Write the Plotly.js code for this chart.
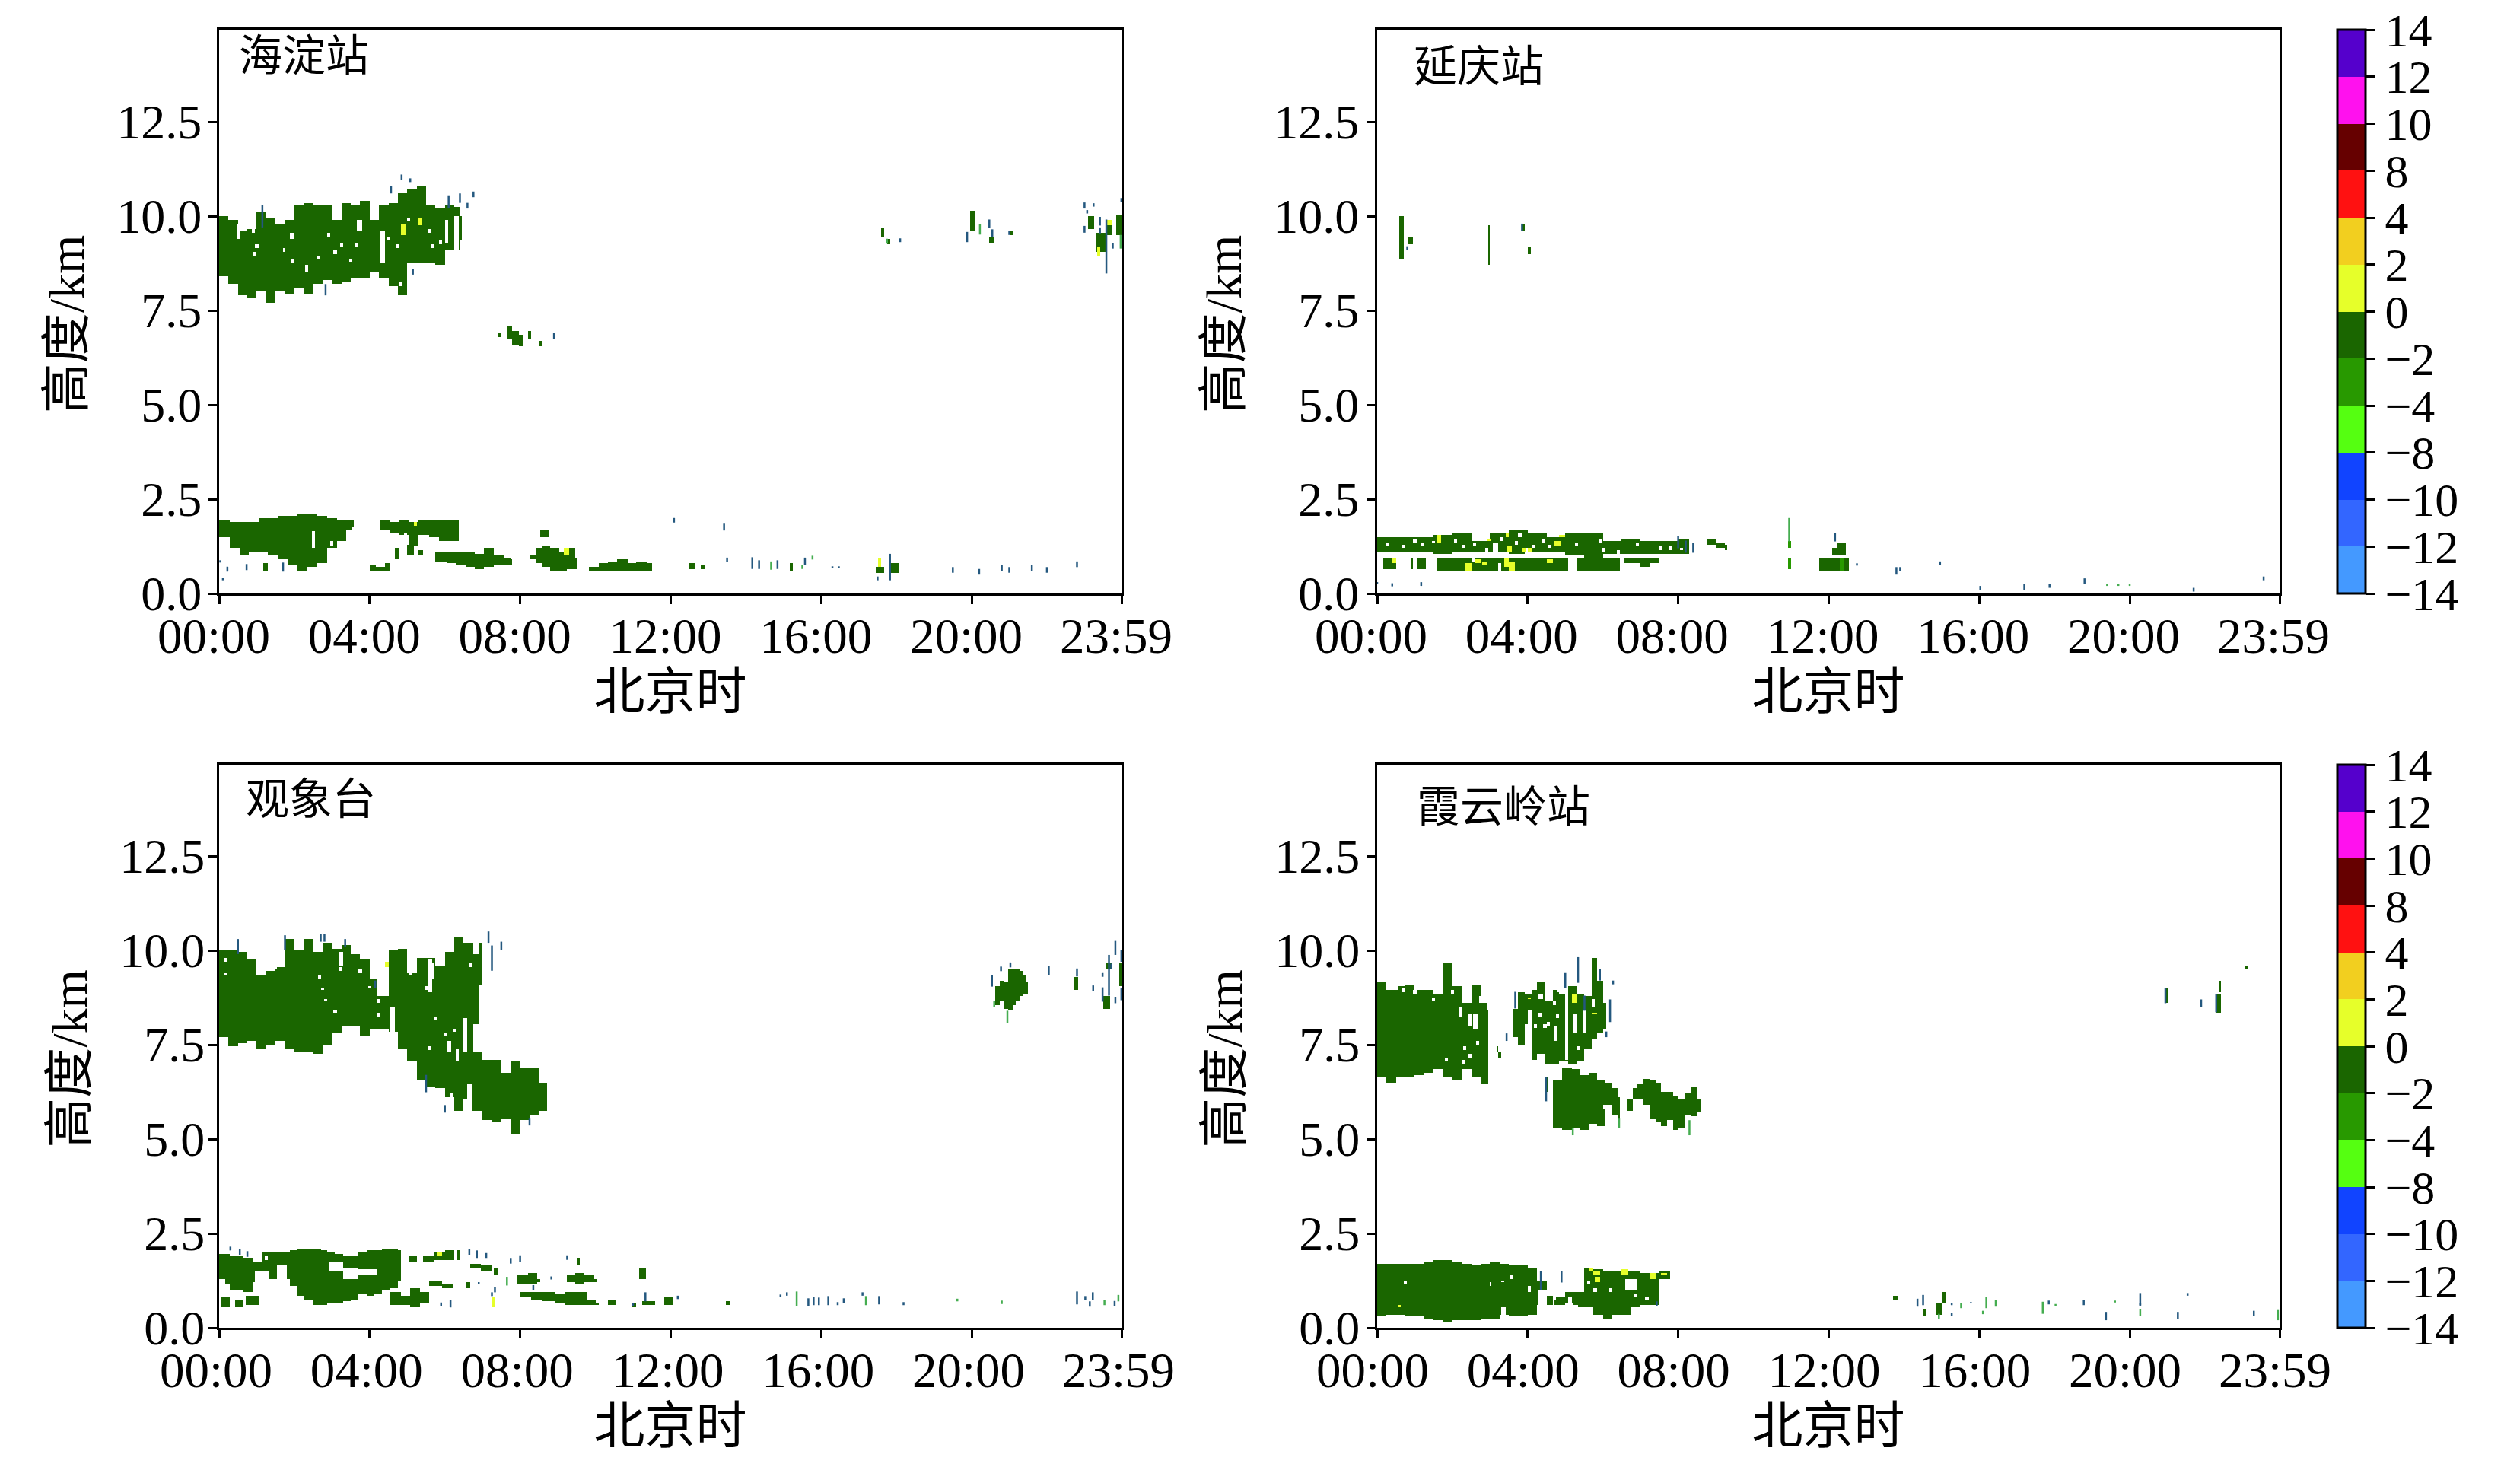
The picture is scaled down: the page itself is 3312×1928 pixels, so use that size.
<!DOCTYPE html>
<html><head><meta charset="utf-8">
<script src="https://cdn.plot.ly/plotly-3.0.1.min.js"></script>
<style>html,body{margin:0;padding:0;background:#fff}</style></head>
<body><div id="chart" style="width:3312px;height:1928px"></div>
<script>
// ---------- shared labels ----------
const stationNames = ['海淀站','延庆站','观象台','霞云岭站'];
const xTickHours = [0,4,8,12,16,20,23.983];
const xTickLabels = ['00:00','04:00','08:00','12:00','16:00','20:00','23:59'];
const yTicks = [0,2.5,5,7.5,10,12.5];
const cbarLabels = ['−14','−12','−10','−8','−4','−2','0','2','4','8','10','12','14'];
const cbarColors = ['#4499ff','#3366ff','#1144ff','#55ff11','#289900','#1a6600','#e6ff2a','#f2cf1f','#ff1111','#660000','#ff11ee','#5500cc'];
const DARK = 5.5, MID = 4.5, YELLOW = 6.5; // colour classes on the colour bar

// ---------- 海淀站 ----------
const hdUpperT   = [0,.25,.5,.75,1,1.25,1.5,1.75,2,2.25,2.5,2.75,3,3.25,3.5,3.75,4,4.25,4.5,4.75,5,5.25,5.5,5.75,6,6.25,6.42,6.47];
const hdUpperLo  = [8.38,8.21,7.9,7.85,8.0,7.7,8.0,7.95,8.1,7.95,8.2,8.3,8.2,8.25,8.35,8.35,8.5,8.35,8.15,7.9,8.75,8.75,8.75,8.7,9.1,9.1,9.35,9.35];
const hdUpperHi  = [10.0,9.9,9.6,9.65,10.1,9.95,9.8,9.9,10.3,10.35,10.3,10.3,9.9,10.35,10.3,10.4,9.9,10.3,10.35,10.6,10.7,10.8,10.3,10.2,10.3,10.25,10.0,9.35];
const hdLowT     = [0,.28,.54,.8,1.06,1.3,1.57,1.83,2.09,2.35,2.6,2.86,3.12,3.38,3.54,3.6,4.3,4.54,4.8,5.06,5.3,5.57,5.83,6.1,6.32,6.37,8.26,8.41,8.6,8.8,9.06,9.25,9.45,9.5,9.85,10.09,10.35,10.6,10.86,11.1,11.38,11.5];
const hdLowLo    = [1.48,1.22,1.0,1.08,1.08,1.0,.88,.75,.61,.72,.82,1.22,1.42,1.72,1.75,0,1.72,1.62,1.55,1.25,1.55,1.48,1.38,1.38,1.42,0,.88,.78,.72,.61,.61,.63,.65,0,.61,.61,.61,.61,.61,.61,.61,0];
const hdLowHi    = [1.97,1.9,1.88,1.88,2.0,2.02,2.03,2.05,2.1,2.12,2.05,2.02,1.95,1.97,1.95,0,1.95,1.92,1.94,1.92,1.95,1.97,1.95,1.97,1.95,0,.98,1.22,1.26,1.18,1.12,1.22,.95,0,.71,.82,.85,.9,.82,.85,.82,0];
const hdMidT     = [5.77,6.03,6.28,6.54,6.8,7.06,7.3,7.57,7.74,7.8];
const hdMidLo    = [.85,.78,.75,.72,.65,.72,.75,.75,.76,0];
const hdMidHi    = [1.12,1.08,1.12,1.12,1.05,1.18,.98,.95,.92,0];
const hdPatchT0  = [7.4,7.65,7.8,7.95,8.2,8.5,4.65,5.0,5.3,4.0,4.15,4.4,1.15,8.55,12.5,12.8,15.15,17.45,17.83,17.6,17.75,19.95,20.47,21,23.07,23.31,23.58,23.82];
const hdPatchT1  = [7.5,7.8,7.95,8.1,8.3,8.6,4.8,5.15,5.4,4.15,4.4,4.55,1.3,8.75,12.65,12.9,15.25,17.65,18.1,17.68,17.85,20.07,20.57,21.08,23.26,23.58,23.72,23.98];
const hdPatchLo  = [6.8,6.75,6.6,6.55,6.75,6.55,.88,1.0,1.0,.62,.58,.58,.58,1.5,.63,.65,.58,.55,.55,9.44,9.27,9.61,9.31,9.5,9.64,9.04,9.5,9.5];
const hdPatchHi  = [6.9,7.1,6.95,6.85,6.95,6.7,1.22,1.28,1.15,.75,.71,.82,.78,1.68,.78,.76,.78,.68,.82,9.68,9.41,10.15,9.45,9.6,9.98,9.54,9.91,10.05];
const hdGapT0    = [.45,1.88,3.68,4.28,2.28,6.0,6.27,2.45,2.95,4.92,5.35,5.65];
const hdGapT1    = [.53,1.98,3.8,4.4,2.38,6.08,6.36,2.53,3.05,5.0,5.45,5.72];
const hdGapLo    = [9.4,9.4,9.6,8.75,8.5,9.3,9.1,1.22,1.25,1.25,1.25,1.2];
const hdGapHi    = [9.8,9.55,9.9,9.6,8.7,9.9,10.0,1.63,1.42,1.6,1.5,1.45];
const hdDotT     = [.95,1,1.73,2.63,3.5,3.25,3.66,4.76,4.83,5.86,5.66,5.6,.9,3.1,2.9,4.5,1.95,5.05];
const hdDotH     = [9.0,9.2,9.1,8.9,8.82,9.25,9.25,9.2,8.2,9.3,9.2,9.6,9.6,9.05,9.5,9.4,8.8,9.9];
const hdYellowT0 = [9.15,5.15,17.5,4.85,5.3,23.33,23.58];
const hdYellowT1 = [9.28,5.25,17.6,4.97,5.38,23.43,23.7];
const hdYellowLo = [1.02,1.82,.68,9.5,9.75,8.94,9.75];
const hdYellowHi = [1.18,1.88,.95,9.8,9.95,9.2,9.88];
const hdStreakT  = [4.57,4.85,5.08,6.76,6.6,6.4,6.1,1.15,5.15,2.83,12.09,13.42,13.5,14.17,14.35,14.84,15.57,16.3,16.47,17.83,17.5,.03,.1,.22,.73,1.7,8.9,18.1,19.88,20.47,20.55,21,23,23,23.07,23.24,23.41,23.41,23.58,23.75,23.98,19.5,20.2,20.8,21,21.6,22,22.8];
const hdStreakLo = [10.6,10.95,10.9,10.5,10.2,10.35,10.2,9.7,8.45,7.9,1.88,1.67,.83,.65,.65,.65,.75,.68,.68,.35,.35,.82,.35,.58,.62,.58,6.75,9.31,9.31,9.68,9.45,9.5,10.2,9.56,10.07,10.25,9.75,9.54,8.48,9.14,10.38,.55,.5,.6,.55,.6,.55,.7];
const hdStreakHi = [10.8,11.1,11.0,10.65,10.35,10.6,10.55,10.3,8.6,8.2,2.0,1.85,.95,.96,.88,.88,.95,.72,.72,1.05,.45,.88,.41,.71,.78,.82,6.9,9.41,9.58,9.91,9.65,9.6,10.36,9.74,10.16,10.34,9.98,9.7,9.91,9.29,10.48,.7,.65,.75,.7,.75,.7,.85];
const hdGreenT   = [14.67,15.5,15.77,20.22,17.75,23.96];
const hdGreenLo  = [.63,.65,.9,9.51,9.27,9.14];
const hdGreenHi  = [.85,.75,1.0,9.78,9.4,9.5];

// ---------- 延庆站 ----------
const yqBandT    = [0,.5,1,1.5,2,2.5,3,3.5,4,4.5,5,5.5,6,6.5,7,7.5,8,8.28,8.74,9,9.23,9.3];
const yqBandLo   = [1.11,1.08,1.11,1.04,1.08,1.11,1.08,1.06,1.09,1.11,1.0,.97,1.04,1.06,1.06,1.06,1.06,0,1.31,1.21,1.16,0];
const yqBandHi   = [1.51,1.51,1.48,1.55,1.58,1.41,1.58,1.69,1.58,1.48,1.58,1.58,1.41,1.46,1.41,1.38,1.44,0,1.47,1.33,1.28,0];
const yqLowT     = [.15,.5,.9,1.3,1.6,3.3,4.0,5.1,5.2,6.3,6.5,7.0,7.25,7.5,7.6];
const yqLowLo    = [.66,0,.67,0,.62,.62,.62,0,.6,.6,.81,.7,.8,.94,0];
const yqLowHi    = [.94,0,.97,0,.95,.95,.95,0,.97,.97,.97,.96,.95,.97,0];
const yqPatchT0  = [.6,.85,2.95,3.85,4.0,11.76,12.4,12.08,12.2,12.44];
const yqPatchT1  = [.7,.95,3.0,3.92,4.08,12.3,12.53,12.2,12.44,12.5];
const yqPatchLo  = [8.85,9.25,8.7,9.6,9.0,.62,.62,1.0,1.0,.62];
const yqPatchHi  = [10.0,9.45,9.76,9.8,9.2,.94,.94,1.2,1.34,.94];
const yqMidT0    = [10.92,10.92,12.3];
const yqMidT1    = [11.02,11.02,12.4];
const yqMidLo    = [1.18,.64,.62];
const yqMidHi    = [1.38,.95,.94];
const yqGapT0    = [.95,3.1,5.2,2.5,3.9,4.8,3.2,6.45];
const yqGapT1    = [1.05,3.2,5.3,2.6,4.0,4.9,3.3,6.55];
const yqGapLo    = [.66,1.0,.6,.85,1.0,1.0,.6,.6];
const yqGapHi    = [.97,1.35,1.0,1.0,1.2,1.1,.8,.95];
const yqDotT     = [.3,.7,1.2,1.5,2.3,2.6,2.9,3.3,3.7,4.15,4.6,5.3,6.0,6.4,6.9,3.8,4.4,5.9,7.55,7.8,8.1,1.0,2.1];
const yqDotH     = [1.3,1.25,1.3,1.38,1.25,1.3,1.15,1.45,1.35,1.25,1.25,1.3,1.15,1.1,1.3,1.55,1.4,1.4,1.2,1.2,1.18,1.4,1.4];
const yqYellowT0 = [1.58,1.58,3.4,3.45,4.72,4.0,3.85,3.38,3.52,2.8,2.6,4.5,2.35,.38,2.9,4.85];
const yqYellowT1 = [1.72,1.72,3.52,3.58,4.88,4.14,3.97,3.52,3.66,2.93,2.74,4.66,2.48,.48,3.05,4.98];
const yqYellowLo = [1.44,1.33,1.5,1.12,1.24,1.1,1.08,.72,.62,.73,.78,.8,.62,.8,1.38,1.5];
const yqYellowHi = [1.53,1.43,1.62,1.24,1.38,1.22,1.18,.95,.85,.85,.9,.92,.8,.97,1.44,1.56];
const yqStreakT  = [.4,1.17,0,8.0,8.2,8.4,12.17,12.75,13.9,13.8,14.96,16.03,17.2,17.87,18.8,21.7,23.56,.8,3.85];
const yqStreakLo = [.19,.2,.25,1.2,1.08,1.08,1.38,.74,.6,.5,.75,.1,.1,.15,.25,.05,.35,9.1,9.6];
const yqStreakHi = [.27,.3,.3,1.53,1.4,1.35,1.61,.8,.7,.7,.85,.2,.25,.25,.4,.15,.45,9.2,9.8];
const yqGreenT   = [10.95,19.4,19.7,20];
const yqGreenLo  = [1.38,.2,.2,.2];
const yqGreenHi  = [2.0,.25,.25,.25];

// ---------- 观象台 ----------
const gxUpperT   = [0,.25,.5,.75,1,1.25,1.5,1.75,2,2.25,2.5,2.75,3,3.25,3.5,3.75,4,4.25,4.5,4.75,5,5.25,5.5,5.75,6,6.25,6.5,6.75,6.9,7.0];
const gxUpperLo  = [7.68,7.45,7.55,7.61,7.41,7.48,7.58,7.41,7.31,7.28,7.24,7.51,7.78,7.98,7.98,7.75,7.88,7.88,7.85,7.38,7.04,6.57,6.4,6.37,6.1,5.77,6.03,8.05,9.1,0];
const gxUpperHi  = [10,10,9.93,9.73,9.33,9.46,9.53,10.3,10,10.3,9.93,10.2,10.07,10.17,9.9,9.76,9.26,8.82,10,10.03,9.4,9.8,9.8,9.6,9.97,10.37,10.2,9.9,10.2,0];
const gxTailT    = [6.65,7,7.25,7.5,7.75,8,8.25,8.5,8.7];
const gxTailLo   = [5.77,5.5,5.43,5.56,5.16,5.5,5.67,5.77,5.73];
const gxTailHi   = [7.3,7.1,7.1,6.77,7.04,6.9,6.9,6.5,6.03];
const gxBlobT    = [20.63,20.77,20.87,20.97,21.08,21.18,21.28,21.38,21.45,21.5];
const gxBlobLo   = [8.57,8.67,8.43,8.4,8.57,8.67,8.8,8.87,8.87,0];
const gxBlobHi   = [9.04,9.2,9.17,9.51,9.51,9.51,9.44,9.34,9.14,0];
const gxLowT     = [0,.3,.62,.93,1.14,1.34,1.55,1.86,2.07,2.27,2.48,2.69,2.89,3.1,3.3,3.51,3.72,3.93,4.13,4.34,4.55,4.75,4.83];
const gxLowLo    = [1.14,1.0,.97,1.18,1.48,1.28,1.28,1.11,.84,.74,.6,.6,.64,.64,.7,.74,.9,.87,.9,1.0,1.07,1.24,0];
const gxLowHi    = [1.95,1.92,1.85,1.75,2.02,2.02,2.02,2.05,2.08,2.1,2.08,2.06,2.02,1.95,1.92,1.92,1.98,2.05,2.05,2.08,2.12,2.05,0];
const gxBandT    = [4.55,4.85,5.1,5.35,5.6,8.0,8.3,8.6,8.9,9.2,9.5,9.8,10,10.1];
const gxBandLo   = [.6,.6,.57,.64,0,.79,.76,.7,.64,.6,.6,.6,.58,0];
const gxBandHi   = [.97,.84,1.07,.94,0,.96,.94,.94,.92,.94,.94,.76,.65,0];
const gxPatchT0  = [.05,.4,.7,5.06,5.4,5.7,6.0,6.32,6.66,6.95,7.3,5.6,5.9,6.55,7.9,8.2,8.45,9.25,9.45,9.7,9.95,9.5,11.15,10.33,10.95,11.26,11.83,13.45,22.72,23.48,23.58,23.91];
const gxPatchT1  = [.3,.62,1.05,5.27,5.7,6.0,6.25,6.42,6.95,7.25,7.4,5.9,6.2,6.68,8.2,8.45,8.55,9.45,9.7,9.95,10.05,9.6,11.35,10.55,11.07,11.57,12.03,13.6,22.85,23.67,23.7,23.98];
const gxPatchLo  = [.57,.57,.6,1.75,1.77,1.8,1.82,1.8,1.6,1.48,1.4,1.1,1.04,1.06,1.17,1.16,1.18,1.2,1.14,1.2,1.18,1.65,1.28,.58,.57,.58,.6,.62,8.97,8.43,9.5,9.04];
const gxPatchHi  = [.8,.74,.84,1.88,1.92,2.01,2.06,2.06,1.72,1.65,1.58,1.24,1.16,1.19,1.38,1.44,1.32,1.38,1.46,1.38,1.31,1.85,1.58,.76,.67,.7,.78,.72,9.31,8.8,9.64,9.64];
const gxGapT0    = [4.55,4.2,6.52,6.05,6.3,5.55,5.62,3.15,6.58,2.9,3.3,3.72,1.55,.0,.95];
const gxGapT1    = [4.66,4.32,6.6,6.15,6.38,5.68,5.72,3.28,6.7,3.3,3.72,4.2,1.8,.15,1.15];
const gxGapLo    = [7.85,8.82,7.3,7.3,7.04,8.92,9.23,9.6,5.77,1.5,1.31,1.38,1.1,1.0,1.2];
const gxGapHi    = [8.52,9.26,8.19,7.6,7.38,9.73,9.66,9.93,6.44,1.75,1.58,1.54,1.65,1.3,1.48];
const gxDotT     = [.15,2.75,2.83,3.99,4.25,6.24,6.0,6.16,.16,3.08,4.25,5.74,5.6,6.67,1.25,1.5,2.65,3.2,3.75,5.1,5.5,1.25,.25];
const gxDotH     = [9.38,8.98,8.68,9.03,8.64,7.87,7.78,6.14,9.74,8.37,8.3,8.2,7.4,9.6,9.55,9.55,9.3,9.5,9.45,9.4,9.0,1.85,1.0];
const gxYellowT0 = [4.4,5.78,7.26];
const gxYellowT1 = [4.52,5.92,7.34];
const gxYellowLo = [9.53,1.88,.56];
const gxYellowHi = [9.68,1.98,.79];
const gxStreakT  = [2.7,2.8,7.16,7.25,7.5,4.15,5.5,6,8.25,1.75,.5,3.35,.3,.55,.75,6.65,6.85,7.1,7.75,8,9.25,8.83,6.9,7.33,7.25,6.15,5.9,8.35,11.0,11.33,12.19,14.92,15.09,15.66,15.8,15.94,16.19,16.44,16.6,17.1,17.54,18.19,22.8,23.02,23.14,23.22,23.8,20.78,21.03,20.54,22.05,22.8,23.23,23.48,23.48,23.65,23.71,23.82,23.82,23.98,23.98];
const gxStreakLo = [10.23,10.23,10.2,9.46,10.0,9.0,6.24,5.7,5.36,10,9.9,10.1,2.05,1.92,1.88,1.92,1.85,1.85,1.7,1.75,1.8,1.28,1.15,.94,.84,.54,.58,1.0,.58,.7,.76,.82,.85,.58,.6,.6,.6,.6,.65,.85,.62,.6,.62,.74,.56,.74,.57,9.45,9.55,9.04,9.34,9.31,8.92,8.64,9.3,8.8,9.5,9.88,8.6,9.7,8.68];
const gxStreakHi = [10.43,10.43,10.5,10.13,10.23,9.2,6.7,5.9,5.56,10.4,10.3,10.3,2.15,2.08,2.03,2.08,2.05,1.98,1.85,1.9,1.9,1.36,1.21,1.08,.94,.74,.67,1.13,.66,.94,.85,.88,.94,.78,.82,.8,.84,.68,.78,.94,.84,.68,.96,.84,.7,.94,.71,9.57,9.68,9.35,9.58,9.52,9.07,9.02,9.4,9.88,9.65,10.25,8.77,10.0,9.0];
const gxGreenT   = [20.95,15.35,17.19,19.62,20.8,23.53,20.6,7.65,23.9];
const gxGreenLo  = [8.07,.58,.6,.7,.63,.6,8.5,1.12,.7];
const gxGreenHi  = [8.4,.96,.84,.77,.72,.74,8.65,1.35,.87];

// ---------- 霞云岭站 ----------
const xyUpperT   = [0,.25,.5,.75,1,1.25,1.5,1.75,2,2.25,2.5,2.75,2.9,2.95];
const xyUpperLo  = [6.64,6.5,6.64,6.64,6.71,6.74,6.84,6.64,6.57,6.84,6.64,6.47,6.47,0];
const xyUpperHi  = [9.17,8.93,9.04,9.1,8.97,8.93,8.87,9.64,9.04,8.6,9.1,8.6,8.4,0];
const xyMidT     = [3.63,3.75,3.9,4.14,4.26,4.45,4.68,4.84,5.07,5.3,5.5,5.69,5.84,6,6.08];
const xyMidLo    = [7.68,7.52,8.05,7.11,7.25,6.98,7.0,7.04,6.98,7.04,7.38,7.65,7.82,7.89,0];
const xyMidHi    = [8.46,8.9,8.87,8.97,9.14,8.63,8.93,8.83,9.04,8.87,8.8,9.81,9.2,8.6,0];
const xyLobeT    = [4.68,4.91,5.15,5.38,5.61,5.84,6.04,6.27,6.43,6.47,6.62,6.78,6.93,7.09,7.24,7.4,7.55,7.7,7.86,8.02,8.17,8.33,8.52,8.57];
const xyLobeLo   = [5.32,5.26,5.3,5.26,5.39,5.35,5.9,5.66,5.56,0,5.76,6.03,6.03,5.9,5.56,5.43,5.36,5.49,5.26,5.32,5.63,5.59,5.7,0];
const xyLobeHi   = [6.57,6.91,6.84,6.7,6.77,6.57,6.5,6.37,6.1,0,6.03,6.37,6.44,6.6,6.53,6.5,6.27,6.23,6.17,6.03,6.2,6.4,6.03,0];
const xyLowT     = [0,.25,.5,.75,1,1.25,1.5,1.75,2,2.25,2.5,2.75,3,3.25,3.5,3.75,4,4.25,4.5,4.75,5,5.2,5.35,5.5,5.75,6,6.25,6.5,6.75,7,7.25,7.5,7.79];
const xyLowLo    = [.32,.34,.36,.32,.3,.24,.18,.17,.18,.2,.2,.27,.24,.34,.32,.32,.34,.6,.6,.6,.64,.62,.57,.54,.37,.24,.34,.37,.57,.6,.6,1.28,0];
const xyLowHi    = [1.68,1.7,1.68,1.7,1.7,1.73,1.78,1.78,1.77,1.71,1.63,1.71,1.75,1.71,1.65,1.65,1.61,1.24,.84,.81,.97,.97,.97,1.58,1.55,1.51,1.51,1.51,1.51,1.44,1.44,1.48,0];
const xyPatchT0  = [3.17,3.22,4.49,20.9,22.3,22.37,13.72,14.5,15.0,14.85,23.05];
const xyPatchT1  = [3.22,3.28,4.55,21.0,22.42,22.42,13.85,14.58,15.12,14.98,23.13];
const xyPatchLo  = [7.3,7.15,6.23,8.6,8.36,8.9,.77,.3,.67,.37,9.5];
const xyPatchHi  = [7.45,7.3,6.64,9.0,8.85,9.2,.87,.5,.94,.64,9.6];
const xyGapT0    = [2.15,2.4,2.55,2.7,3.3,4.0,4.7,5.0,5.22,5.46,5.72,5.08,4.0,4.3,4.8,6.6,3.3,4.3,4.65];
const xyGapT1    = [2.25,2.5,2.65,2.8,3.4,4.12,4.8,5.08,5.3,5.55,5.8,5.18,4.1,4.42,4.9,6.9,3.4,4.5,4.72];
const xyGapLo    = [8.25,8.0,7.9,8.6,7.8,7.5,7.6,7.11,7.8,7.8,8.5,.64,.95,8.7,8.9,.98,.34,.6,.6];
const xyGapHi    = [8.5,8.3,8.3,8.8,8.0,8.4,8.0,8.87,8.3,8.4,8.7,.81,1.1,8.85,9.1,1.3,.54,1.0,.8];
const xyDotT     = [.5,.7,1.0,2.0,2.35,2.45,2.65,4.2,4.35,4.55,4.7,3.33,.75,3.02,3.6,4.69,5.62,5.78,6.19,6.86,7.17,5.34,6.04,4.46,4.8,1.5,1.85,2.3];
const xyDotH     = [9.0,8.95,8.9,8.9,7.4,7.2,7.55,8.0,8.3,8.05,8.6,1.22,1.2,1.16,1.34,.81,1.2,.99,.99,.84,.77,7.4,5.85,8.0,8.25,8.7,7.1,7.05];
const xyYellowT0 = [5.18,4.02,5.72,5.62,5.75,5.78,6.52,7.27,7.55,.55];
const xyYellowT1 = [5.28,4.1,5.85,5.76,5.9,5.93,6.66,7.4,7.7,.62];
const xyYellowLo = [8.6,8.68,8.3,1.5,1.42,1.2,1.42,1.3,1.4,.53];
const xyYellowHi = [8.83,8.76,8.36,1.62,1.5,1.36,1.54,1.46,1.47,.6];
const xyStreakT  = [5.34,5.0,5.51,6.19,6.27,6.09,5.92,3.44,3.67,4.35,4.9,7.43,20.95,21.9,22.3,14.36,14.51,15.27,15.27,15.78,18.78,17.85,19.37,20.28,20.28,21.28,21.54,23.3,4.49];
const xyStreakLo = [9.14,9.0,8.4,8.1,9.1,7.7,9.2,7.6,8.46,1.0,1.2,.58,8.6,8.5,8.36,.56,.6,.6,.32,.65,.6,.62,.2,.59,.59,.24,.85,.32,6.0];
const xyStreakHi = [9.82,9.4,8.8,8.7,9.2,7.85,9.5,7.8,8.9,1.5,1.5,.7,9.0,8.7,8.85,.77,.87,.66,.4,.68,.74,.72,.42,.92,.66,.42,.92,.45,6.64];
const xyGreenT   = [14.93,15.52,16.19,16.44,17.69,18.03,19.61,20.28,23.94,16.1,6.43,5.2,8.3];
const xyGreenLo  = [.24,.52,.52,.56,.37,.57,.67,.32,.2,.36,5.3,5.1,5.1];
const xyGreenHi  = [.37,.66,.81,.74,.69,.63,.72,.5,.47,.45,5.56,5.3,5.5];

// ---------- drawing ----------
const DT = 1/24, DH = 0.05, NX = 576, NY = 300;
const gridX = Array.from({length:NX},(_,i)=>(i+.5)*DT);
const gridY = Array.from({length:NY},(_,j)=>(j+.5)*DH);
function blank(){return Array.from({length:NY},()=>new Array(NX).fill(null));}
function paint(z,t0,t1,lo,hi,v){
  const i0=Math.max(0,Math.round(t0/DT)), i1=Math.min(NX,Math.max(i0+1,Math.round(t1/DT)));
  const j0=Math.max(0,Math.round(lo/DH)), j1=Math.min(NY,Math.round(hi/DH));
  for(let j=j0;j<j1;j++)for(let i=i0;i<i1;i++)z[j][i]=v;
}
function columns(z,T,Lo,Hi,v){for(let i=0;i<T.length-1;i++)if(Hi[i]>Lo[i])paint(z,T[i],T[i+1],Lo[i],Hi[i],v);}
function rects(z,T0,T1,Lo,Hi,v){T0.forEach((t,i)=>paint(z,t,T1[i],Lo[i],Hi[i],v));}
function dots(z,T,H){T.forEach((t,i)=>paint(z,t-.04,t+.04,H[i]-.04,H[i]+.04,null));}
function segs(T,Lo,Hi){const x=[],y=[];T.forEach((t,i)=>{x.push(t,t,null);y.push(Lo[i],Hi[i],null);});return {x,y};}

const colorscale=[];cbarColors.forEach((c,i)=>{colorscale.push([i/12,c],[(i+1)/12,c]);});
const W=3312,H=1928;
const panels=[
 {l:288,t:39,b:780,bar:false,xShift:-7,yOff:-4},
 {l:1810,t:39,b:780,bar:true,xShift:-8,yOff:-3},
 {l:288,t:1005,b:1745,bar:false,xShift:-4,yOff:-8},
 {l:1810,t:1005,b:1745,bar:true,xShift:-6,yOff:-4}];
const zs=[blank(),blank(),blank(),blank()];
// 海淀站
columns(zs[0],hdUpperT,hdUpperLo,hdUpperHi,DARK);columns(zs[0],hdLowT,hdLowLo,hdLowHi,DARK);columns(zs[0],hdMidT,hdMidLo,hdMidHi,DARK);
rects(zs[0],hdPatchT0,hdPatchT1,hdPatchLo,hdPatchHi,DARK);rects(zs[0],hdGapT0,hdGapT1,hdGapLo,hdGapHi,null);dots(zs[0],hdDotT,hdDotH);
rects(zs[0],hdYellowT0,hdYellowT1,hdYellowLo,hdYellowHi,YELLOW);
// 延庆站
columns(zs[1],yqBandT,yqBandLo,yqBandHi,DARK);columns(zs[1],yqLowT,yqLowLo,yqLowHi,DARK);
rects(zs[1],yqPatchT0,yqPatchT1,yqPatchLo,yqPatchHi,DARK);rects(zs[1],yqMidT0,yqMidT1,yqMidLo,yqMidHi,MID);
rects(zs[1],yqGapT0,yqGapT1,yqGapLo,yqGapHi,null);dots(zs[1],yqDotT,yqDotH);
rects(zs[1],yqYellowT0,yqYellowT1,yqYellowLo,yqYellowHi,YELLOW);
// 观象台
columns(zs[2],gxUpperT,gxUpperLo,gxUpperHi,DARK);columns(zs[2],gxTailT,gxTailLo,gxTailHi,DARK);columns(zs[2],gxBlobT,gxBlobLo,gxBlobHi,DARK);
columns(zs[2],gxLowT,gxLowLo,gxLowHi,DARK);columns(zs[2],gxBandT,gxBandLo,gxBandHi,DARK);
rects(zs[2],gxPatchT0,gxPatchT1,gxPatchLo,gxPatchHi,DARK);rects(zs[2],gxGapT0,gxGapT1,gxGapLo,gxGapHi,null);dots(zs[2],gxDotT,gxDotH);
rects(zs[2],gxYellowT0,gxYellowT1,gxYellowLo,gxYellowHi,YELLOW);
// 霞云岭站
columns(zs[3],xyUpperT,xyUpperLo,xyUpperHi,DARK);columns(zs[3],xyMidT,xyMidLo,xyMidHi,DARK);columns(zs[3],xyLobeT,xyLobeLo,xyLobeHi,DARK);columns(zs[3],xyLowT,xyLowLo,xyLowHi,DARK);
rects(zs[3],xyPatchT0,xyPatchT1,xyPatchLo,xyPatchHi,DARK);rects(zs[3],xyGapT0,xyGapT1,xyGapLo,xyGapHi,null);dots(zs[3],xyDotT,xyDotH);
rects(zs[3],xyYellowT0,xyYellowT1,xyYellowLo,xyYellowHi,YELLOW);

const streaks=[segs(hdStreakT,hdStreakLo,hdStreakHi),segs(yqStreakT,yqStreakLo,yqStreakHi),segs(gxStreakT,gxStreakLo,gxStreakHi),segs(xyStreakT,xyStreakLo,xyStreakHi)];
const greens=[segs(hdGreenT,hdGreenLo,hdGreenHi),segs(yqGreenT,yqGreenLo,yqGreenHi),segs(gxGreenT,gxGreenLo,gxGreenHi),segs(xyGreenT,xyGreenLo,xyGreenHi)];

const FONT='"Liberation Serif","Noto Sans CJK SC",serif';
const layout={width:W,height:H,margin:{l:0,r:0,t:0,b:0},paper_bgcolor:'#fff',plot_bgcolor:'#fff',showlegend:false,font:{family:FONT,size:64,color:'#000'},annotations:[]};
const traces=[];
const labelPos=[[312,74],[1856,88],[321,1050],[1860,1060]];
panels.forEach((p,k)=>{
  const n=k+1, xa=n===1?'x':'x'+n, ya=n===1?'y':'y'+n;
  const bar={thickness:37,thicknessmode:'pixels',len:p.b-p.t,lenmode:'pixels',x:3072/W,xanchor:'left',y:(H-p.b)/H,yanchor:'bottom',xpad:0,ypad:0,
    outlinecolor:'#000',outlinewidth:3,tickmode:'array',tickvals:cbarLabels.map((_,i)=>i),ticktext:cbarLabels,ticks:'outside',ticklen:12,tickwidth:3,tickcolor:'#000',
    tickfont:{family:FONT,size:62,color:'#000'}};
  traces.push({type:'heatmap',x:gridX,y:gridY,z:zs[k],zmin:0,zmax:12,zsmooth:false,colorscale,showscale:p.bar,colorbar:bar,xaxis:xa,yaxis:ya,hoverinfo:'skip'});
  traces.push({type:'scatter',mode:'lines',x:streaks[k].x,y:streaks[k].y,xaxis:xa,yaxis:ya,line:{color:'#24587f',width:2.5},hoverinfo:'skip'});
  traces.push({type:'scatter',mode:'lines',x:greens[k].x,y:greens[k].y,xaxis:xa,yaxis:ya,line:{color:'#45ad50',width:2.5},hoverinfo:'skip'});
  const xn=n===1?'xaxis':'xaxis'+n, yn=n===1?'yaxis':'yaxis'+n;
  layout[xn]={domain:[p.l/W,(p.l+1186)/W],range:[0,23.983],anchor:ya,tickmode:'array',tickvals:xTickHours,ticktext:xTickLabels,ticks:'outside',ticklen:11,tickwidth:3,tickcolor:'#000',
    showline:true,linecolor:'#000',linewidth:3,mirror:true,showgrid:false,zeroline:false,tickfont:{family:FONT,size:65,color:'#000'},ticklabelstandoff:-14,ticklabelshift:p.xShift,
    title:{text:'北京时',font:{family:FONT,size:67,color:'#000'},standoff:12},tickangle:0};
  layout[yn]={domain:[(H-p.b)/H,(H-p.t)/H],range:[0,(p.b-p.t)/49.6],anchor:xa,tickmode:'array',tickvals:yTicks,ticktext:yTicks.map(v=>v.toFixed(1)),ticks:'outside',ticklen:11,tickwidth:3,tickcolor:'#000',
    showline:true,linecolor:'#000',linewidth:3,mirror:true,showgrid:false,zeroline:false,tickfont:{family:FONT,size:64,color:'#000'},ticklabelstandoff:p.yOff,
    title:{text:'高度/km\u00a0\u00a0\u200b',font:{family:FONT,size:66,color:'#000'},standoff:22}};
  layout.annotations.push({text:stationNames[k],xref:'paper',yref:'paper',x:labelPos[k][0]/W,y:1-labelPos[k][1]/H,xanchor:'left',yanchor:'middle',showarrow:false,font:{family:FONT,size:57,color:'#000'}});
});
Plotly.newPlot('chart',traces,layout,{staticPlot:true,displayModeBar:false});
</script></body></html>
